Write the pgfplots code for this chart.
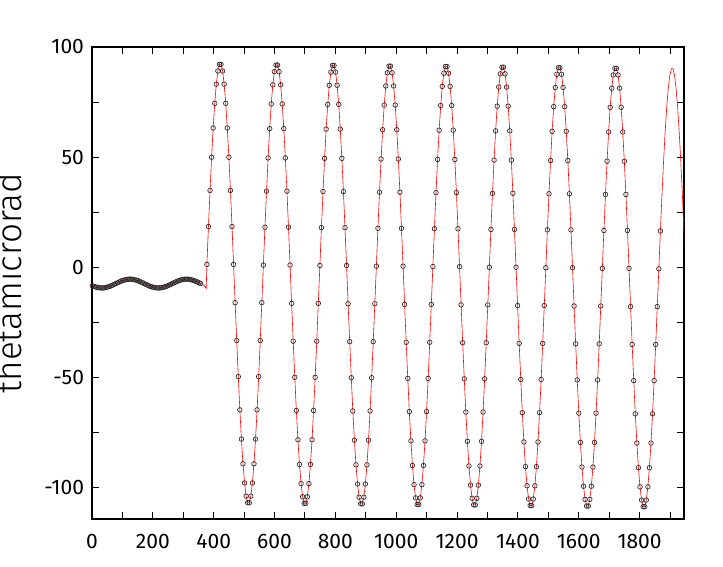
\documentclass[border=0pt]{standalone}
\usepackage{fontspec}
\setmainfont{Fira Sans}
\newfontfamily\lightfont{Fira Sans}[UprightFont=* Light]
\usepackage{pgfplots}
\usepackage{pgfplotstable}
\pgfplotsset{compat=1.18}

% rows 0-69: slow oscillation, 70-72: fit only, 73-360: fast oscillation, 361-378: fit tail
\pgfplotstableread[row sep=\\]{
x y\\
1.2 -8.5\\ 6.4 -8.79\\ 11.5 -9.03\\ 16.7 -9.23\\ 21.8 -9.38\\ 27.0 -9.47\\ 32.2 -9.5\\ 37.3 -9.47\\ 42.5 -9.38\\ 47.6 -9.23\\
52.8 -9.03\\ 57.9 -8.79\\ 63.1 -8.5\\ 68.3 -8.18\\ 73.4 -7.85\\ 78.6 -7.5\\ 83.7 -7.15\\ 88.9 -6.82\\ 94.1 -6.5\\ 99.2 -6.21\\
104.4 -5.97\\ 109.5 -5.77\\ 114.7 -5.62\\ 119.8 -5.53\\ 125.0 -5.5\\ 130.2 -5.53\\ 135.3 -5.62\\ 140.5 -5.77\\ 145.6 -5.97\\ 150.8 -6.21\\
156.0 -6.5\\ 161.1 -6.82\\ 166.3 -7.15\\ 171.4 -7.5\\ 176.6 -7.85\\ 181.7 -8.18\\ 186.9 -8.5\\ 192.1 -8.79\\ 197.2 -9.03\\ 202.4 -9.23\\
207.5 -9.38\\ 212.7 -9.47\\ 217.9 -9.5\\ 223.0 -9.47\\ 228.2 -9.38\\ 233.3 -9.23\\ 238.5 -9.03\\ 243.6 -8.79\\ 248.8 -8.5\\ 254.0 -8.18\\
259.1 -7.85\\ 264.3 -7.5\\ 269.4 -7.15\\ 274.6 -6.82\\ 279.8 -6.5\\ 284.9 -6.21\\ 290.1 -5.97\\ 295.2 -5.77\\ 300.4 -5.62\\ 305.5 -5.53\\
310.7 -5.5\\ 315.9 -5.53\\ 321.0 -5.62\\ 326.2 -5.77\\ 331.3 -5.97\\ 336.5 -6.21\\ 341.7 -6.5\\ 346.8 -6.82\\ 352.0 -7.15\\ 357.1 -7.5\\
362.3 -7.85\\ 367.4 -8.18\\ 375.5 -9.7\\
377.7 1.2\\ 382.8 18.4\\ 388.0 34.8\\ 393.2 49.9\\ 398.3 63.2\\ 403.5 74.4\\ 408.6 83.1\\ 413.8 89.1\\ 419.0 92.1\\ 424.1 92.1\\ 429.3 89.1\\ 434.4 83.1\\
439.6 74.4\\ 444.7 63.2\\ 449.9 49.9\\ 455.1 34.8\\ 460.2 18.4\\ 465.4 1.2\\ 470.5 -16.2\\ 475.7 -33.4\\ 480.9 -49.8\\ 486.0 -64.9\\ 491.2 -78.2\\ 496.3 -89.4\\
501.5 -98.1\\ 506.6 -104.1\\ 511.8 -107.1\\ 517.0 -107.1\\ 522.1 -104.1\\ 527.3 -98.1\\ 532.4 -89.4\\ 537.6 -78.2\\ 542.7 -64.9\\ 547.9 -49.8\\ 553.1 -33.4\\ 558.2 -16.2\\
563.4 0.9\\ 568.5 18.1\\ 573.7 34.5\\ 578.9 49.6\\ 584.0 62.9\\ 589.2 74.1\\ 594.3 82.8\\ 599.5 88.8\\ 604.7 91.8\\ 609.8 91.8\\ 615.0 88.8\\ 620.1 82.8\\
625.3 74.1\\ 630.4 62.9\\ 635.6 49.6\\ 640.8 34.5\\ 645.9 18.1\\ 651.1 0.9\\ 656.2 -16.5\\ 661.4 -33.7\\ 666.6 -50.1\\ 671.7 -65.2\\ 676.9 -78.5\\ 682.0 -89.7\\
687.2 -98.4\\ 692.3 -104.4\\ 697.5 -107.4\\ 702.7 -107.4\\ 707.8 -104.4\\ 713.0 -98.4\\ 718.1 -89.7\\ 723.3 -78.5\\ 728.4 -65.2\\ 733.6 -50.1\\ 738.8 -33.7\\ 743.9 -16.5\\
749.1 0.7\\ 754.2 17.9\\ 759.4 34.3\\ 764.6 49.4\\ 769.7 62.7\\ 774.9 73.9\\ 780.0 82.6\\ 785.2 88.6\\ 790.4 91.6\\ 795.5 91.6\\ 800.7 88.6\\ 805.8 82.6\\
811.0 73.9\\ 816.1 62.7\\ 821.3 49.4\\ 826.5 34.3\\ 831.6 17.9\\ 836.8 0.7\\ 841.9 -16.7\\ 847.1 -33.9\\ 852.3 -50.3\\ 857.4 -65.4\\ 862.6 -78.7\\ 867.7 -89.9\\
872.9 -98.6\\ 878.0 -104.6\\ 883.2 -107.6\\ 888.4 -107.6\\ 893.5 -104.6\\ 898.7 -98.6\\ 903.8 -89.9\\ 909.0 -78.7\\ 914.1 -65.4\\ 919.3 -50.3\\ 924.5 -33.9\\ 929.6 -16.7\\
934.8 0.4\\ 939.9 17.6\\ 945.1 34.0\\ 950.3 49.1\\ 955.4 62.4\\ 960.6 73.6\\ 965.7 82.3\\ 970.9 88.3\\ 976.1 91.3\\ 981.2 91.3\\ 986.4 88.3\\ 991.5 82.3\\
996.7 73.6\\ 1001.8 62.4\\ 1007.0 49.1\\ 1012.2 34.0\\ 1017.3 17.6\\ 1022.5 0.4\\ 1027.6 -17.0\\ 1032.8 -34.2\\ 1038.0 -50.6\\ 1043.1 -65.7\\ 1048.3 -79.0\\ 1053.4 -90.2\\
1058.6 -98.9\\ 1063.7 -104.9\\ 1068.9 -107.9\\ 1074.1 -107.9\\ 1079.2 -104.9\\ 1084.4 -98.9\\ 1089.5 -90.2\\ 1094.7 -79.0\\ 1099.8 -65.7\\ 1105.0 -50.6\\ 1110.2 -34.2\\ 1115.3 -17.0\\
1120.5 0.2\\ 1125.6 17.4\\ 1130.8 33.8\\ 1136.0 48.9\\ 1141.1 62.2\\ 1146.3 73.4\\ 1151.4 82.1\\ 1156.6 88.1\\ 1161.8 91.1\\ 1166.9 91.1\\ 1172.1 88.1\\ 1177.2 82.1\\
1182.4 73.4\\ 1187.5 62.2\\ 1192.7 48.9\\ 1197.9 33.8\\ 1203.0 17.4\\ 1208.2 0.2\\ 1213.3 -17.2\\ 1218.5 -34.4\\ 1223.7 -50.8\\ 1228.8 -65.9\\ 1234.0 -79.2\\ 1239.1 -90.4\\
1244.3 -99.1\\ 1249.4 -105.1\\ 1254.6 -108.1\\ 1259.8 -108.1\\ 1264.9 -105.1\\ 1270.1 -99.1\\ 1275.2 -90.4\\ 1280.4 -79.2\\ 1285.5 -65.9\\ 1290.7 -50.8\\ 1295.9 -34.4\\ 1301.0 -17.2\\
1306.2 -0.1\\ 1311.3 17.1\\ 1316.5 33.5\\ 1321.7 48.6\\ 1326.8 61.9\\ 1332.0 73.1\\ 1337.1 81.8\\ 1342.3 87.8\\ 1347.5 90.8\\ 1352.6 90.8\\ 1357.8 87.8\\ 1362.9 81.8\\
1368.1 73.1\\ 1373.2 61.9\\ 1378.4 48.6\\ 1383.6 33.5\\ 1388.7 17.1\\ 1393.9 -0.1\\ 1399.0 -17.5\\ 1404.2 -34.7\\ 1409.4 -51.1\\ 1414.5 -66.2\\ 1419.7 -79.5\\ 1424.8 -90.7\\
1430.0 -99.4\\ 1435.1 -105.4\\ 1440.3 -108.4\\ 1445.5 -108.4\\ 1450.6 -105.4\\ 1455.8 -99.4\\ 1460.9 -90.7\\ 1466.1 -79.5\\ 1471.2 -66.2\\ 1476.4 -51.1\\ 1481.6 -34.7\\ 1486.7 -17.5\\
1491.9 -0.3\\ 1497.0 16.9\\ 1502.2 33.3\\ 1507.4 48.4\\ 1512.5 61.7\\ 1517.7 72.9\\ 1522.8 81.6\\ 1528.0 87.6\\ 1533.2 90.6\\ 1538.3 90.6\\ 1543.5 87.6\\ 1548.6 81.6\\
1553.8 72.9\\ 1558.9 61.7\\ 1564.1 48.4\\ 1569.3 33.3\\ 1574.4 16.9\\ 1579.6 -0.3\\ 1584.7 -17.7\\ 1589.9 -34.9\\ 1595.1 -51.3\\ 1600.2 -66.4\\ 1605.4 -79.7\\ 1610.5 -90.9\\
1615.7 -99.6\\ 1620.8 -105.6\\ 1626.0 -108.6\\ 1631.2 -108.6\\ 1636.3 -105.6\\ 1641.5 -99.6\\ 1646.6 -90.9\\ 1651.8 -79.7\\ 1656.9 -66.4\\ 1662.1 -51.3\\ 1667.3 -34.9\\ 1672.4 -17.7\\
1677.6 -0.6\\ 1682.7 16.6\\ 1687.9 33.0\\ 1693.1 48.1\\ 1698.2 61.4\\ 1703.4 72.6\\ 1708.5 81.3\\ 1713.7 87.3\\ 1718.9 90.3\\ 1724.0 90.3\\ 1729.2 87.3\\ 1734.3 81.3\\
1739.5 72.6\\ 1744.6 61.4\\ 1749.8 48.1\\ 1755.0 33.0\\ 1760.1 16.6\\ 1765.3 -0.6\\ 1770.4 -18.0\\ 1775.6 -35.2\\ 1780.8 -51.6\\ 1785.9 -66.7\\ 1791.1 -80.0\\ 1796.2 -91.2\\
1801.4 -99.9\\ 1806.5 -105.9\\ 1811.7 -108.9\\ 1816.9 -108.9\\ 1822.0 -105.9\\ 1827.2 -99.9\\ 1832.3 -91.2\\ 1837.5 -80.0\\ 1842.6 -66.7\\ 1847.8 -51.6\\ 1853.0 -35.2\\ 1858.1 -18.0\\
1863.3 -0.8\\ 1868.4 16.4\\
1873.6 32.8\\ 1878.8 47.9\\ 1883.9 61.2\\ 1889.1 72.4\\ 1894.2 81.1\\ 1899.4 87.1\\ 1904.6 90.1\\ 1909.7 90.1\\ 1914.9 87.1\\ 1920.0 81.1\\
1925.2 72.4\\ 1930.3 61.2\\ 1935.5 47.9\\ 1940.7 32.8\\ 1945.8 16.4\\ 1951.0 -0.8\\
}\theta

\begin{document}
\begin{tikzpicture}
\begin{axis}[
  at={(0pt,0pt)},anchor=south west,
  scale only axis,width=592pt,height=472pt,
  xmin=0,xmax=1946,ymin=-114.5,ymax=100,
  xtick distance=200,ytick distance=50,
  minor x tick num=1,minor y tick num=1,
  tick align=inside,major tick length=7pt,minor tick length=7pt,
  axis line style={black,line width=1.3pt},
  tick style={black,line width=1pt},
  font=\fontsize{21}{25}\selectfont,
  /pgf/number format/assume math mode=true,
  /pgf/number format/1000 sep={},
  scaled ticks=false,
  xticklabel style={yshift=-12pt},
  yticklabel style={xshift=-4.5pt},
  ylabel={thetamicrorad},
  ylabel style={at={(axis description cs:-0.1188,0.5)},anchor=base,
    inner sep=0pt,font=\lightfont\fontsize{35}{42}\selectfont},
]
\addplot[red,line width=0.6pt,no marks] table {\theta};
\addplot[only marks,mark=o,mark size=2.3pt,
  mark options={black!85,line width=0.65pt},
  skip coords between index={70}{73},
  skip coords between index={363}{379}] table {\theta};
\end{axis}
\pgfresetboundingbox
\path[use as bounding box] (-92pt,-48pt) rectangle (631pt,519pt);
\end{tikzpicture}
\end{document}
